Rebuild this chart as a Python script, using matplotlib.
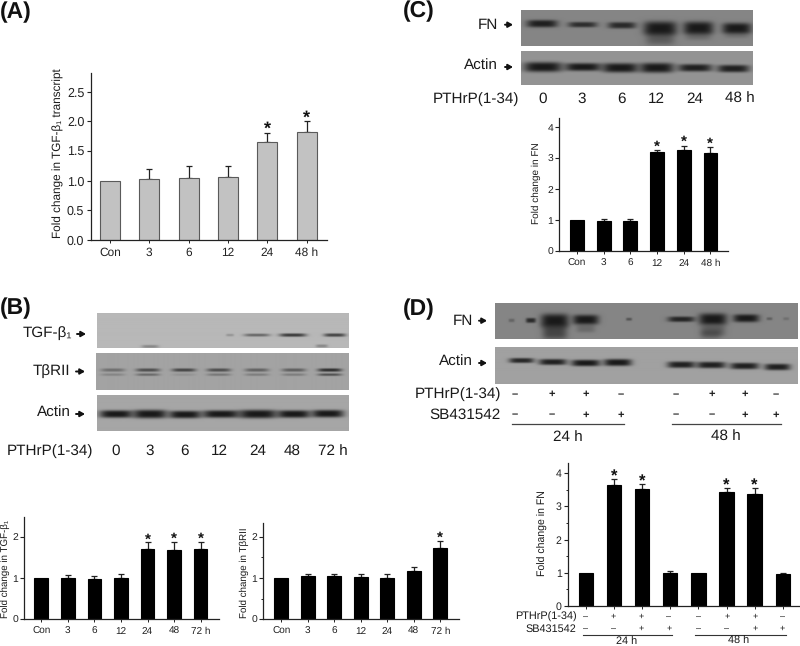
import numpy as np
import matplotlib
matplotlib.use("Agg")
import matplotlib.pyplot as plt

plt.rcParams['font.family'] = ['Liberation Sans', 'DejaVu Sans']
plt.rcParams['text.hinting'] = 'no_hinting'

W, H = 800, 646

# ---------- chart values ----------
a_labels = ['Con', '3', '6', '12', '24', '48 h']
a_means = [1.0, 1.03, 1.05, 1.06, 1.65, 1.82]
a_errs = [0, 0.17, 0.20, 0.18, 0.16, 0.18]
a_stars = [4, 5]

b1_labels = ['Con', '3', '6', '12', '24', '48', '72 h']
b1_means = [1.0, 1.0, 0.97, 1.0, 1.71, 1.68, 1.70]
b1_errs = [0, 0.08, 0.08, 0.09, 0.15, 0.20, 0.18]
b1_stars = [4, 5, 6]

b2_labels = ['Con', '3', '6', '12', '24', '48', '72 h']
b2_means = [1.0, 1.05, 1.04, 1.03, 1.0, 1.16, 1.73]
b2_errs = [0, 0.05, 0.05, 0.07, 0.10, 0.10, 0.17]
b2_stars = [6]

c_labels = ['Con', '3', '6', '12', '24', '48 h']
c_means = [1.0, 0.96, 0.96, 3.22, 3.27, 3.17]
c_errs = [0, 0.07, 0.09, 0.04, 0.13, 0.18]
c_stars = [3, 4, 5]

d_means = [1.0, 3.65, 3.52, 1.0, 0.99, 3.42, 3.38, 0.95]
d_errs = [0, 0.17, 0.14, 0.05, 0, 0.13, 0.17, 0.04]
d_stars = [1, 2, 5, 6]
d_pthrp = ['-', '+', '+', '-', '-', '+', '+', '-']
d_sb = ['-', '-', '+', '+', '-', '-', '+', '+']

# ---------- blot lane labels and band densities ----------
b_times = ['0', '3', '6', '12', '24', '48', '72 h']
c_times = ['0', '3', '6', '12', '24', '48 h']
b_tgf_density = [0.22, 0.5, 0.78, 0.72, 0.3, 0.3]
b_rii_upper = [0.38, 0.62, 0.68, 0.62, 0.48, 0.5, 0.85]
b_rii_lower = [0.22, 0.42, 0.12, 0.32, 0.28, 0.28, 0.6]
b_actin_density = [1.0, 1.0, 1.0, 1.0, 1.0, 1.0, 1.0]
c_fn_density = [0.95, 0.82, 0.85, 1.0, 1.0, 1.0]
c_actin_density = [1.0, 1.0, 1.0, 1.0, 0.95, 0.95]
d_fn_density = [0.3, 0.85, 1.0, 1.0, 0.45, 0.9, 1.0, 1.0, 0.35, 0.2]
d_actin_density = [0.9, 0.95, 1.0, 1.0, 0.95, 0.95, 0.95, 0.95]

fig = plt.figure(figsize=(W / 100, H / 100), dpi=100, facecolor='white')


def chart(left, right, base, px_per_unit, top, x0, dx, width, means, errs, stars,
          labels, color='black', edge='black', minor=False,
          xfs=7.2, yfs=7, yticks=(0, 1, 2), yfmt='{:d}', star_fs=11, star_off=-3.0):
    ymax = (base - top) / px_per_unit
    ax = fig.add_axes([left / W, 1 - base / H, (right - left) / W, (base - top) / H])
    ax.patch.set_alpha(0)
    n = len(means)
    xs = np.arange(n)
    ax.bar(xs, means, width=width / dx, color=color, edgecolor=edge, linewidth=0.8, zorder=2)
    has_err = [i for i in range(n) if errs[i] > 0]
    ax.errorbar([xs[i] for i in has_err], [means[i] for i in has_err],
                yerr=[[0] * len(has_err), [errs[i] for i in has_err]], fmt='none', ecolor='#222222',
                elinewidth=0.9, capsize=2.4, capthick=0.9, zorder=1)
    for s in stars:
        ax.annotate('*', (s, means[s] + errs[s]), xytext=(0, star_off), textcoords='offset points',
                    ha='center', va='bottom', fontsize=star_fs, fontweight='bold', color='#111111',
                    annotation_clip=False)
    ax.set_xlim((left - x0) / dx, (right - x0) / dx)
    ax.set_ylim(0, ymax)
    for s in ['top', 'right']:
        ax.spines[s].set_visible(False)
    for s in ['left', 'bottom']:
        ax.spines[s].set_linewidth(0.9)
        ax.spines[s].set_color('#222222')
    ax.set_xticks(xs)
    ax.set_xticklabels(labels if labels else [''] * n, fontsize=xfs, color='#222222')
    ax.set_yticks(list(yticks))
    ax.set_yticklabels([yfmt.format(v) for v in yticks], fontsize=yfs, color='#222222')
    ax.tick_params(axis='x', length=2, width=0.7, pad=3.5, color='#222222')
    ax.tick_params(axis='y', length=3, width=0.8, pad=1.5, color='#222222')
    if minor:
        ax.set_yticks([v + 0.5 for v in yticks if v + 0.5 < ymax], minor=True)
        ax.tick_params(axis='y', which='minor', length=1.8, width=0.7, color='#222222')
    return ax


# Panel A
chart(90.5, 326.7, 240, 59.3, 73, 110, 39.3, 20, a_means, a_errs, a_stars, a_labels,
      color='#c2c2c2', edge='#5a5a5a', xfs=8.6, yfs=9,
      yticks=(0, 0.5, 1.0, 1.5, 2.0, 2.5), yfmt='{:.1f}', star_fs=13, star_off=-3.5)
# Panel B charts
chart(24.3, 219, 619.3, 41.3, 516.7, 41.3, 26.55, 13.7, b1_means, b1_errs, b1_stars, b1_labels, yfs=7.5)
chart(263.3, 459, 619.3, 41.3, 523.3, 281.3, 26.5, 13.7, b2_means, b2_errs, b2_stars, b2_labels,
      minor=True, yfs=7.5)
# Panel C chart
chart(559.3, 727.7, 251, 30.9, 118.3, 577, 26.67, 13.7, c_means, c_errs, c_stars, c_labels,
      yticks=(0, 1, 2, 3, 4), yfs=7.5, star_off=-2.3)
# Panel D chart
chart(568, 799, 606, 33.2, 463.3, 586, 28.1, 14.3, d_means, d_errs, d_stars, None,
      yticks=(0, 1, 2, 3, 4), yfs=7.6, minor=True, star_fs=12, star_off=-4)

# Overlay in pixel space for blots and annotation text
ov = fig.add_axes([0, 0, 1, 1], zorder=5)
ov.patch.set_alpha(0)
ov.axis('off')


def blot(x0, y0, x1, y1, bg, bands, dark=0.10):
    nx, ny = int(round((x1 - x0) * 2)), int(round((y1 - y0) * 2))
    xx = np.linspace(x0, x1, nx)[None, :]
    yy = np.linspace(y0, y1, ny)[:, None]
    absorb = np.zeros((ny, nx))
    for cx, w, cy, h, d in bands:
        prof = np.exp(-np.abs((xx - cx) / (w / 2)) ** 4) * np.exp(-np.abs((yy - cy) / (h / 2)) ** 3.2)
        absorb = absorb + d * prof * (1 - absorb)
    img = bg - (bg - dark) * np.clip(absorb, 0, 1)
    ov.imshow(img, cmap='gray', vmin=0, vmax=1, extent=(x0, x1, y1, y0), aspect='auto',
              interpolation='bilinear')


def lanes(xs, ws, ys, hs, ds):
    return list(zip(xs, ws, ys, hs, ds))


# ---- Panel B blots ----
blot(97, 314, 349, 348.3, 0.72, lanes(
    [230, 257, 293, 335, 150, 322], [8, 26, 27, 22, 17, 12],
    [335.7, 335.7, 335.7, 335.7, 347, 346.5], [2.6, 3.0, 3.4, 3.4, 3, 3], b_tgf_density))
blot(96.3, 353.3, 349, 390.3, 0.64,
     lanes([113, 148, 184, 219, 257, 294, 330], [24] * 7, [370.3] * 7, [3.4] * 7, b_rii_upper)
     + lanes([113, 148, 184, 219, 257, 294, 330], [24] * 7, [375] * 7, [2.6] * 7, b_rii_lower))
blot(97, 396, 349, 431.3, 0.65, lanes(
    [116, 150, 185, 221, 258, 294, 328], [33, 34, 32, 37, 38, 33, 32],
    [414.7, 414.7, 415.2, 414.7, 414.7, 414.7, 414.3], [7.5, 8.5, 7.5, 7.5, 8.5, 7.5, 7.5], b_actin_density))

# ---- Panel C blots ----
blot(520.7, 9.7, 752.7, 45.7, 0.52,
     lanes([541.7, 582.3, 621.7, 660, 698.3, 736.7], [31, 29, 28, 33, 30, 29],
           [23.3, 24.3, 25, 28, 27.7, 28], [7.5, 5.5, 6.5, 14, 13, 11], c_fn_density)
     + lanes([660, 698.3, 736.7], [29, 26, 25], [37, 35, 34], [16, 10, 8], [0.4, 0.25, 0.2]))
blot(520.7, 50.7, 752.7, 84.7, 0.58, lanes(
    [542.7, 582.7, 620, 656.7, 695, 733.3], [38, 36, 36, 34, 34, 32],
    [66.7, 66.7, 67.5, 67.5, 67.5, 68.3], [10, 8, 9.5, 10, 7.5, 7.5], c_actin_density))

# ---- Panel D blots ----
blot(495.3, 303.3, 798.3, 339.3, 0.52,
     lanes([511.7, 531, 555, 586, 629.3, 681.7, 713.3, 746.7, 770, 786.7],
           [6, 10, 28, 26, 6, 27, 28, 26, 6, 6],
           [320.7, 320.7, 321, 320, 319.5, 319.5, 319.5, 318.5, 319, 319],
           [3.5, 5, 14, 10, 3, 5.5, 12, 8, 3, 3], d_fn_density)
     + lanes([555, 586, 713.3, 711], [25, 19, 25, 20], [332, 329, 331, 335], [16, 8, 12, 9],
             [0.6, 0.25, 0.4, 0.25]))
blot(495.3, 347.3, 798.3, 383.7, 0.63, lanes(
    [521.7, 553, 586, 618, 681.7, 711.7, 745, 778], [25, 28, 29, 28, 28, 29, 29, 26],
    [360.5, 362, 363, 362.5, 364.7, 365, 366, 367], [5, 6, 6.5, 7, 6.5, 6.5, 6.5, 6.5], d_actin_density))

ov.set_xlim(0, W)
ov.set_ylim(H, 0)


def T(x, y, s, fs=11, ha='center', **kw):
    kw.setdefault('color', '#1a1a1a')
    ov.text(x, y, s, fontsize=fs, ha=ha, va='center', **kw)


def arrow(x0, x1, y):
    ov.annotate('', xy=(x1, y), xytext=(x0, y),
                arrowprops=dict(arrowstyle='-|>,head_width=0.16,head_length=0.28', lw=1.4,
                                color='#111111', shrinkA=0, shrinkB=0))


# Panel letters
for x, y, s in [(0, 12.5, '(A)'), (0, 308.5, '(B)'), (403, 11, '(C)'), (403, 309, '(D)')]:
    T(x, y, s, fs=16.5, ha='left', fontweight='bold', color='#111111')

# y axis titles
rot = dict(rotation=90)
T(58, 153.6, 'Fold change in TGF-β₁ transcript', fs=8.5, **rot)
T(5, 569, 'Fold change in TGF-β₁', fs=7, **rot)
T(244, 573, 'Fold change in TβRII', fs=7, **rot)
T(536, 183.3, 'Fold change in FN', fs=7.2, **rot)
T(543.3, 533, 'Fold change in FN', fs=7.6, **rot)

# Panel B blot labels
T(72, 333, 'TGF-β₁', ha='right')
arrow(77, 86, 334)
T(70, 371, 'TβRII', ha='right')
arrow(76, 85, 371.5)
T(71, 413, 'Actin', ha='right')
arrow(76, 85, 414)
T(7, 451, 'PTHrP(1-34)', ha='left')
for x, s in zip([115.7, 150, 184, 219, 258, 292, 333], b_times):
    T(x, 451, s)

# Panel C blot labels
T(497.7, 24.7, 'FN', ha='right')
arrow(505, 513, 24.7)
T(497.7, 66, 'Actin', ha='right')
arrow(505, 513, 67)
T(433, 98.7, 'PTHrP(1-34)', ha='left')
for x, s in zip([542.3, 582, 621, 656.7, 694.7, 740], c_times):
    T(x, 98.7, s)

# Panel D blot labels
T(472.7, 320.7, 'FN', ha='right')
arrow(479, 487, 320.7)
T(472.7, 362.3, 'Actin', ha='right')
arrow(479, 487, 363)
T(500.7, 394, 'PTHrP(1-34)', ha='right')
T(500.7, 415.3, 'SB431542', ha='right')
for x, p, s in zip([514.3, 551.7, 586, 621, 675.7, 711.7, 745, 775.7], d_pthrp, d_sb):
    T(x, 394.5, p.replace('-', '–'), fs=8, fontweight='bold')
    T(x, 415, s.replace('-', '–'), fs=8, fontweight='bold')
for xa, xb in [(511.7, 624), (672.3, 780.7)]:
    ov.plot([xa, xb], [423.7, 423.7], color='#444444', lw=0.9)
T(568.3, 436.7, '24 h')
T(726, 436.7, '48 h')

# Panel D chart grouping below the axis
T(576.7, 616.8, 'PTHrP(1-34)', fs=7.8, ha='right')
T(576.7, 629, 'SB431542', fs=7.8, ha='right')
for x, p, s in zip([585.3, 613.3, 641.3, 669, 698, 726.7, 755, 782], d_pthrp, d_sb):
    T(x, 616.2, p.replace('-', '–'), fs=6.5)
    T(x, 628.7, s.replace('-', '–'), fs=6.5)
for xa, xb in [(582.7, 672), (695.3, 785.7)]:
    ov.plot([xa, xb], [635, 635], color='#333333', lw=0.8)
T(626.7, 641.5, '24 h', fs=7.8)
T(739, 641.5, '48 h', fs=7.8)

ov.set_xlim(0, W)
ov.set_ylim(H, 0)
fig.savefig('out.png', dpi=100, facecolor='white')
